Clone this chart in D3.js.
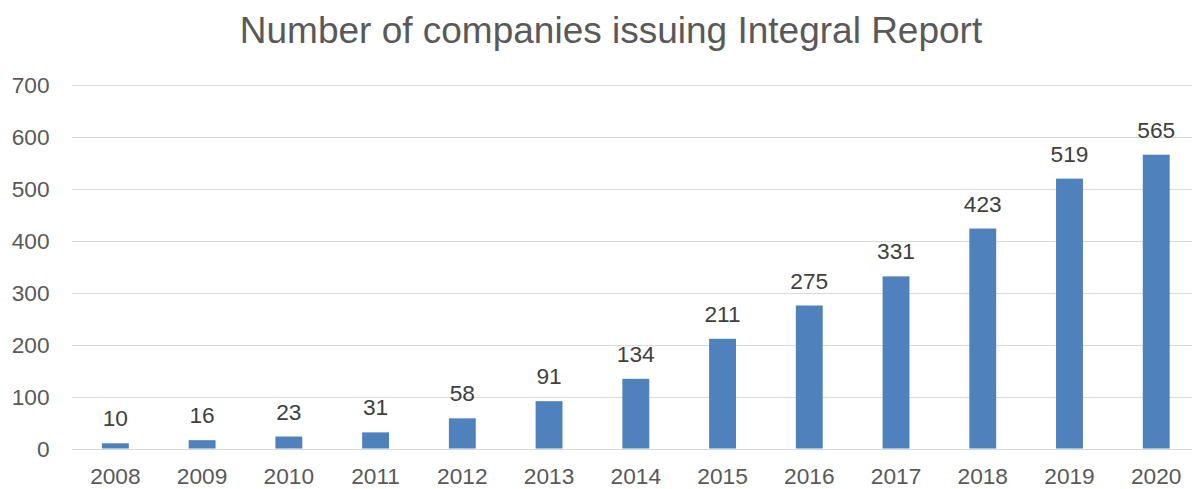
<!DOCTYPE html>
<html><head><meta charset="utf-8">
<script src="https://cdn.jsdelivr.net/npm/d3@7"></script>
<style>body{margin:0;background:#fff;overflow:hidden}svg{display:block}</style>
</head><body>
<script>
const years = ["2008","2009","2010","2011","2012","2013","2014","2015","2016","2017","2018","2019","2020"];
const companies = [10,16,23,31,58,91,134,211,275,331,423,519,565];
const yTicks = [0,100,200,300,400,500,600,700];
const chartTitle = "Number of companies issuing Integral Report";

const W = 1192, H = 489;
const svg = d3.select("body").append("svg").attr("width", W).attr("height", H);
const font = "Liberation Sans, Arial, sans-serif";
const grey = "#595959";

const x = d3.scaleBand().domain(years).range([72, 1199.6]).paddingInner(0.69).paddingOuter(0.345);
const y = d3.scaleLinear().domain([0, 700]).range([448.5, 84.5]);

svg.append("text").attr("x", 611).attr("y", 42.7).attr("text-anchor", "middle")
  .attr("font-family", font).attr("font-size", 37).attr("fill", grey).text(chartTitle);

// gridlines
svg.append("g").selectAll("line").data(yTicks).join("line")
  .attr("x1", 72).attr("x2", 1199.6)
  .attr("y1", d => Math.round(y(d)) + 0.5).attr("y2", d => Math.round(y(d)) + 0.5)
  .attr("stroke", "#d9d9d9").attr("stroke-width", 1);

// y axis labels
const yAxis = d3.axisLeft(y).tickValues(yTicks).tickSize(0).tickPadding(0);
const gy = svg.append("g").attr("transform", "translate(49.5,0)").call(yAxis);
gy.select(".domain").remove();
gy.selectAll("text").attr("font-family", font).attr("font-size", 22.7).attr("fill", grey).attr("dy", "0.35em");

// x axis labels
const xAxis = d3.axisBottom(x).tickSize(0).tickPadding(0);
const gx = svg.append("g").attr("transform", "translate(0,484)").call(xAxis);
gx.select(".domain").remove();
gx.selectAll("text").attr("font-family", font).attr("font-size", 22.7).attr("fill", grey).attr("dy", 0);

// bars
svg.append("g").selectAll("rect").data(companies).join("rect")
  .attr("x", (d, i) => x(years[i])).attr("width", x.bandwidth())
  .attr("y", d => y(d)).attr("height", d => y(0) - y(d))
  .attr("fill", "#4F81BD");

// data labels
svg.append("g").selectAll("text").data(companies).join("text")
  .attr("x", (d, i) => x(years[i]) + x.bandwidth() / 2)
  .attr("y", d => y(d) - 17)
  .attr("text-anchor", "middle").attr("font-family", font).attr("font-size", 22.7)
  .attr("fill", "#404040").text(d => d);
</script>
</body></html>
